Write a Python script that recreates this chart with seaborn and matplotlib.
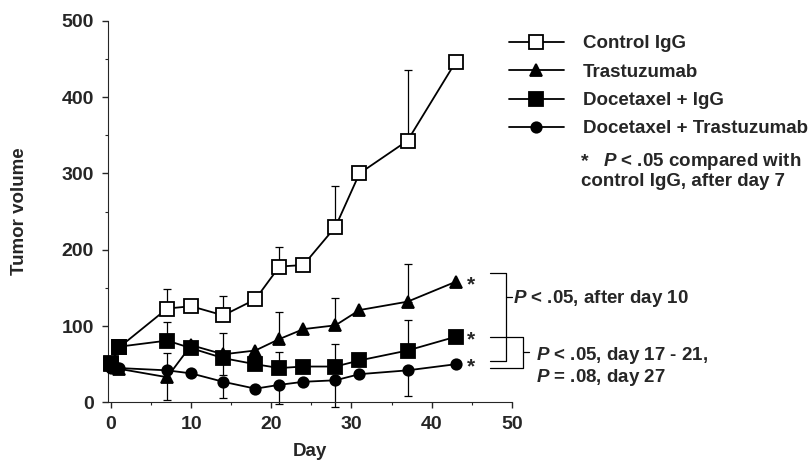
import numpy as np
import pandas as pd
import seaborn as sns
import matplotlib.pyplot as plt
from matplotlib.lines import Line2D

# values
days = [0, 1, 7, 10, 14, 18, 21, 24, 28, 31, 37, 43]
control_igg = [50, 72, 123, 126, 114, 135, 178, 180, 230, 300, 343, 446]
trastuzumab = [50, 44, 33, 75, 63, 68, 83, 96, 101, 121, 132, 158]
docetaxel_igg = [52, 73, 81, 71, 58, 50, 45, 47, 47, 55, 68, 86]
docetaxel_trast = [45, 45, 42, 38, 27, 18, 23, 27, 29, 37, 42, 50]

# one-sided error bars (0 = not drawn), same order as days
control_up = [0, 0, 26, 0, 26, 0, 26, 0, 53, 0, 92, 0]
trast_up = [0, 0, 0, 0, 0, 0, 36, 0, 36, 0, 49, 0]
trast_down = [0, 0, 0, 0, 27, 0, 0, 0, 0, 0, 0, 0]
doc_igg_up = [0, 0, 25, 0, 33, 0, 21, 0, 30, 0, 40, 0]
doc_trast_up = [0, 0, 23, 0, 0, 0, 0, 0, 0, 0, 0, 0]
doc_trast_down = [0, 0, 39, 0, 21, 0, 25, 0, 35, 0, 34, 0]

labels = ["Control IgG", "Trastuzumab", "Docetaxel + IgG", "Docetaxel + Trastuzumab"]

sns.set_style("ticks")
plt.rcParams['font.family'] = ['Liberation Sans', 'DejaVu Sans']
plt.rcParams['font.weight'] = 'bold'
plt.rcParams['mathtext.fontset'] = 'custom'
plt.rcParams['mathtext.bfit'] = 'Liberation Sans:italic:bold'

fig = plt.figure(figsize=(8.11, 4.62), dpi=100)
ax = fig.add_axes([0.133, 0.129, 0.498, 0.826])

series = [
    (control_igg, "s", "white", 9.5, [0] * 12, control_up),
    (trastuzumab, "^", "black", 8.5, trast_down, trast_up),
    (docetaxel_igg, "s", "black", 9.5, [0] * 12, doc_igg_up),
    (docetaxel_trast, "o", "black", 7.5, doc_trast_down, doc_trast_up),
]

handles = []
for (vals, mk, fc, ms, down, up), lab in zip(series, labels):
    df = pd.DataFrame({"Day": days, "vol": vals})
    sns.lineplot(data=df, x="Day", y="vol", ax=ax, color="black", lw=1.3,
                 marker=mk, markersize=ms, markerfacecolor=fc,
                 markeredgecolor="black", markeredgewidth=1.3, zorder=3,
                 clip_on=False)
    d = np.array(days, dtype=float)
    v = np.array(vals, dtype=float)
    up = np.array(up, dtype=float)
    down = np.array(down, dtype=float)
    m = up > 0
    if m.any():
        ax.errorbar(d[m], v[m], yerr=[np.zeros(m.sum()), up[m]], fmt="none",
                    ecolor="black", elinewidth=0.9, capsize=3, capthick=0.9,
                    zorder=2, clip_on=False)
    m = down > 0
    if m.any():
        ax.errorbar(d[m], v[m], yerr=[down[m], np.zeros(m.sum())], fmt="none",
                    ecolor="black", elinewidth=0.9, capsize=3, capthick=0.9,
                    zorder=2, clip_on=False)
    handles.append(Line2D([], [], color="black", lw=1.3, marker=mk,
                          markersize=ms, markerfacecolor=fc,
                          markeredgecolor="black", markeredgewidth=1.3))

ax.set_xlim(-0.4, 50)
ax.set_ylim(0, 500)
ax.set_xticks([0, 10, 20, 30, 40, 50])
ax.set_yticks([0, 100, 200, 300, 400, 500])
ax.set_xticks(np.arange(0, 51, 5), minor=True)
ax.set_yticks(np.arange(0, 501, 50), minor=True)
ax.tick_params(axis="both", which="major", length=4, width=1, labelsize=14, pad=6)
ax.tick_params(axis="both", which="minor", length=2.5, width=0.8)
for t in ax.get_xticklabels() + ax.get_yticklabels():
    t.set_fontweight("bold")
sns.despine(ax=ax)
ax.set_xlabel("Day", fontsize=13.5, fontweight="bold", labelpad=7)
ax.set_ylabel("Tumor volume", fontsize=13.5, fontweight="bold", labelpad=24)

# asterisks next to last points
for vals in [trastuzumab, docetaxel_igg, docetaxel_trast]:
    ax.text(44.9, vals[-1] - 4, "*", fontsize=15, ha="center", va="center",
            clip_on=False)

# significance brackets
kw = dict(color="black", lw=0.9, clip_on=False)
ax.plot([47.3, 49.3, 49.3, 47.3], [170, 170, 54.6, 54.6], **kw)
ax.plot([49.3, 50.0], [138, 138], **kw)
ax.text(50.2, 136, "$\\mathbfit{P}$ < .05, after day 10", fontsize=13.5,
        fontweight="bold", va="center", ha="left")
ax.plot([47.3, 51.4, 51.4, 47.3], [86, 86, 44.7, 44.7], **kw)
ax.plot([51.4, 52.1], [66, 66], **kw)
ax.text(53.0, 61, "$\\mathbfit{P}$ < .05, day 17 - 21,", fontsize=13.5,
        fontweight="bold", va="center", ha="left")
ax.text(53.0, 32, "$\\mathbfit{P}$ = .08, day 27", fontsize=13.5,
        fontweight="bold", va="center", ha="left")

fig.legend(handles, labels, loc="upper left", bbox_to_anchor=(0.618, 0.94),
           frameon=False, fontsize=13.5, handlelength=2.95, handletextpad=1.0,
           labelspacing=0.6, borderaxespad=0)
fig.text(0.716, 0.651, "*", fontsize=14, fontweight="bold", va="center", ha="left")
fig.text(0.744, 0.651, "$\\mathbfit{P}$ < .05 compared with", fontsize=13.5,
         fontweight="bold", va="center", ha="left")
fig.text(0.717, 0.607, "control IgG, after day 7", fontsize=13.5,
         fontweight="bold", va="center", ha="left")

fig.savefig("out.png", dpi=100)
